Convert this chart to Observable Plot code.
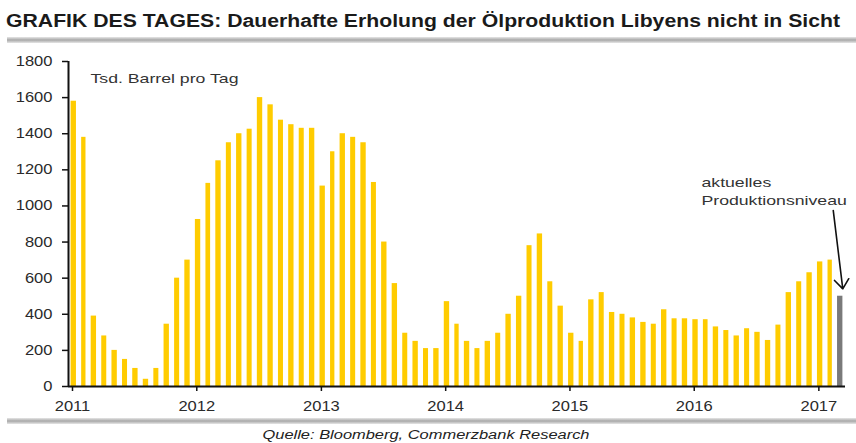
<!DOCTYPE html>
<html>
<head>
<meta charset="utf-8">
<script src="https://cdn.jsdelivr.net/npm/d3@7"></script>
<script src="https://cdn.jsdelivr.net/npm/@observablehq/plot@0.6"></script>
<style>
  html, body { margin: 0; padding: 0; background: #fff; }
  #wrap { width: 856px; height: 443px; overflow: hidden; }
  svg { display: block; }
</style>
</head>
<body>
<div id="wrap">
  <svg id="head" width="856" height="44" xmlns="http://www.w3.org/2000/svg">
    <defs>
      <linearGradient id="band" x1="0" y1="0" x2="0" y2="1">
        <stop offset="0" stop-color="#e6e6e6"/>
        <stop offset="0.5" stop-color="#a8a8a8"/>
        <stop offset="1" stop-color="#e6e6e6"/>
      </linearGradient>
    </defs>
    <text x="6" y="27" font-family="'Liberation Sans', Arial, sans-serif" font-weight="bold" font-size="17.5" fill="#1a1a1a" textLength="834" lengthAdjust="spacingAndGlyphs">GRAFIK DES TAGES: Dauerhafte Erholung der Ölproduktion Libyens nicht in Sicht</text>
    <rect x="7" y="37" width="849" height="6" fill="url(#band)"/>
  </svg>
  <div id="chart"></div>
  <svg id="foot" width="856" height="25" xmlns="http://www.w3.org/2000/svg">
    <defs>
      <linearGradient id="band2" x1="0" y1="0" x2="0" y2="1">
        <stop offset="0" stop-color="#e6e6e6"/>
        <stop offset="0.5" stop-color="#a8a8a8"/>
        <stop offset="1" stop-color="#e6e6e6"/>
      </linearGradient>
    </defs>
    <rect x="7" y="0" width="849" height="6" fill="url(#band2)"/>
    <text x="426" y="21" text-anchor="middle" font-family="'Liberation Sans', Arial, sans-serif" font-style="italic" font-size="12.5" fill="#222" textLength="327" lengthAdjust="spacingAndGlyphs">Quelle: Bloomberg, Commerzbank Research</text>
  </svg>
</div>
<script>
// Monthly oil production Libya, thousand barrels per day
const v2011 = [1580, 1380, 390, 280, 200, 150, 100, 40, 100, 345, 600, 700];
const v2012 = [925, 1125, 1250, 1350, 1400, 1425, 1600, 1560, 1475, 1450, 1430, 1430];
const v2013 = [1110, 1300, 1400, 1380, 1350, 1130, 800, 570, 295, 250, 210, 210];
const v2014 = [470, 345, 250, 210, 250, 295, 400, 500, 780, 845, 580, 445];
const v2015 = [295, 250, 480, 520, 410, 400, 380, 355, 345, 425, 375, 375];
const v2016 = [370, 370, 330, 310, 280, 320, 300, 255, 340, 520, 580, 630];
const v2017 = [690, 700];
const currentLevel = 500;          // grey bar, März 2017
const years = [2011, 2012, 2013, 2014, 2015, 2016, 2017];
const yTicks = [0, 200, 400, 600, 800, 1000, 1200, 1400, 1600, 1800];
const unitLabel = "Tsd. Barrel pro Tag";
const annotationText = "aktuelles\nProduktionsniveau";
const annotationAt = {date: new Date(Date.UTC(2016, 1, 3)), value: 1085};
const arrowFrom = {date: new Date(Date.UTC(2017, 1, 24)), value: 975};
const arrowTo = {date: new Date(Date.UTC(2017, 2, 24)), value: 541};

const series = [v2011, v2012, v2013, v2014, v2015, v2016, v2017];
const bars = [];
series.forEach((arr, yi) => arr.forEach((v, m) => {
  bars.push({start: new Date(Date.UTC(years[yi], m, 1)), end: new Date(Date.UTC(years[yi], m + 1, 1)), value: v});
}));
const current = [{start: new Date(Date.UTC(2017, 2, 1)), end: new Date(Date.UTC(2017, 3, 1)), value: currentLevel}];
const yearDates = years.map(y => new Date(Date.UTC(y, 0, 1)));
const x0 = new Date(Date.UTC(2011, 0, 1));
const x1 = new Date(Date.UTC(2017, 3, 1));

const chart = Plot.plot({
  width: 856,
  height: 374,
  marginTop: 17,
  marginBottom: 32,
  marginLeft: 68,
  marginRight: 11,
  style: {fontFamily: "'Liberation Sans', Arial, sans-serif", fontSize: "14px", color: "#2a2a2a", background: "#fff", overflow: "visible"},
  x: {type: "utc", domain: [x0, x1]},
  y: {domain: [0, 1800]},
  marks: [
    Plot.rectY(bars, {x1: "start", x2: "end", y: "value", fill: "#FFCC00", insetLeft: 2.6, insetRight: 2.6}),
    Plot.rectY(current, {x1: "start", x2: "end", y: "value", fill: "#7a7a7a", insetLeft: 2.6, insetRight: 2.6}),
    Plot.ruleX([x0], {stroke: "#111", strokeWidth: 2}),
    Plot.ruleY([0], {stroke: "#111", strokeWidth: 2}),
    Plot.axisY({ticks: yTicks, tickFormat: d => String(d), tickSize: 6, tickPadding: 10, label: null, stroke: "#111", strokeWidth: 1.5, fill: "#2a2a2a", fontSize: 14}),
    Plot.axisX({ticks: yearDates, tickFormat: d => String(d.getUTCFullYear()), tickSize: 5, tickPadding: 10, dx: 4, label: null, stroke: "#111", strokeWidth: 1.5, fill: "#2a2a2a", fontSize: 14}),
    Plot.text([unitLabel], {frameAnchor: "top-left", text: d => d, dx: 22, dy: 17, textAnchor: "start", lineAnchor: "middle", fontSize: 13.5, fill: "#333"}),
    Plot.text([annotationAt], {x: "date", y: "value", text: () => annotationText, textAnchor: "start", lineAnchor: "middle", lineHeight: 1.33, fontSize: 13.5, fill: "#333"}),
    Plot.arrow([{a: arrowFrom, b: arrowTo}], {x1: d => d.a.date, y1: d => d.a.value, x2: d => d.b.date, y2: d => d.b.value, stroke: "#111", strokeWidth: 1.6, headLength: 11, headAngle: 75})
  ]
});
document.getElementById("chart").appendChild(chart);

// The reference's lettering is horizontally widened; stretch each text about its anchor.
const NS = "http://www.w3.org/2000/svg";
chart.querySelectorAll("text").forEach(t => {
  const g = t.closest("g[aria-label]");
  const label = g ? g.getAttribute("aria-label") : "";
  const s = label.includes("tick label") ? 1.18 : 1.31;
  const wrap = document.createElementNS(NS, "g");
  t.parentNode.insertBefore(wrap, t);
  wrap.appendChild(t);
  const b = wrap.getBBox();
  const anchor = getComputedStyle(t).textAnchor;
  const ax = anchor === "end" ? b.x + b.width : anchor === "middle" ? b.x + b.width / 2 : b.x;
  wrap.setAttribute("transform", `translate(${ax},0) scale(${s},1) translate(${-ax},0)`);
});
</script>
</body>
</html>
